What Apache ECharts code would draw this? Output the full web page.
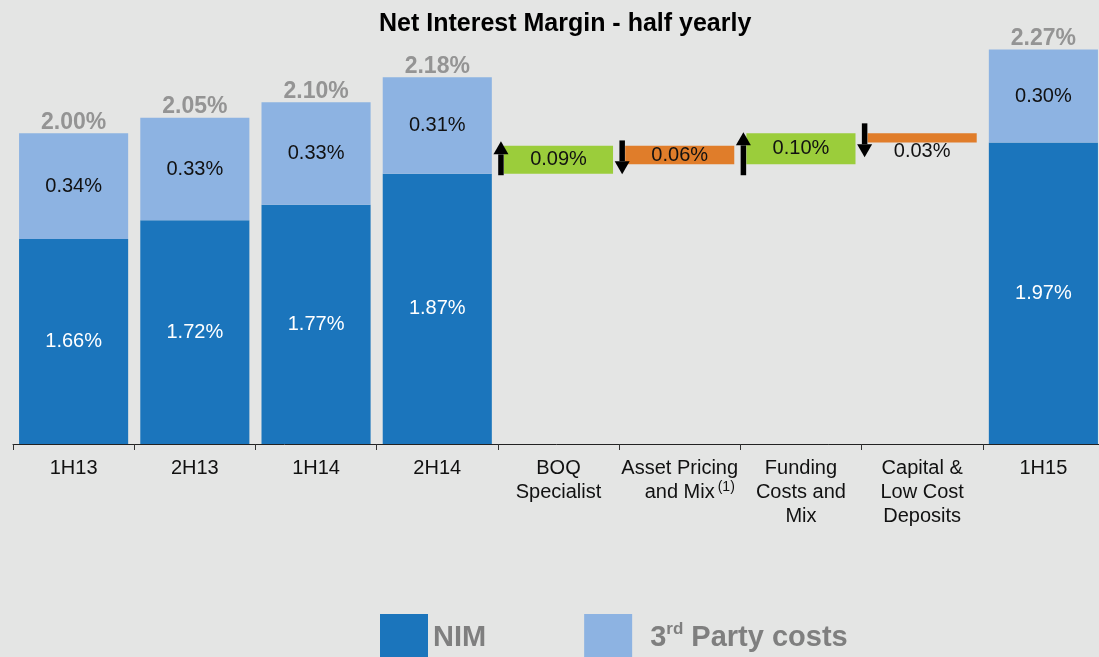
<!DOCTYPE html>
<html><head><meta charset="utf-8">
<script src="https://cdn.jsdelivr.net/npm/echarts@6/dist/echarts.min.js"></script>
<style>html,body{margin:0;padding:0;background:#e4e5e4;}#c{width:1099px;height:657px;}</style>
</head><body><div id="c"></div>
<script>
const categories = ['1H13','2H13','1H14','2H14','BOQ\nSpecialist','Asset Pricing\nand Mix(1)','Funding\nCosts and\nMix','Capital &\nLow Cost\nDeposits','1H15'];
const nim        = [1.66, 1.72, 1.77, 1.87, null, null, null, null, 1.97];
const thirdParty = [0.34, 0.33, 0.33, 0.31, null, null, null, null, 0.30];
const totals     = [2.00, 2.05, 2.10, 2.18, null, null, null, null, 2.27];
const stepBase   = [null, null, null, null, 1.87, 1.90, 1.90, 1.97, null];
const stepUp     = [null, null, null, null, 0.09, null, 0.10, null, null];
const stepDown   = [null, null, null, null, null, 0.06, null, 0.03, null];
const arrowFrom  = [null, null, null, null, 1.865, 1.977, 1.865, 2.032, null];
const arrowTo    = [null, null, null, null, 1.974, 1.868, 2.003, 1.923, null];

const FONT = 'Liberation Sans, Arial, Helvetica, sans-serif';
const dash = a => a.map(v => v == null ? '-' : v);
const pct = p => Number(p.value).toFixed(2) + '%';
const stepData = a => a.map(v => v == null ? '-' : (v < 0.05 ? {value: v, label: {position: 'bottom', distance: -1}} : v));

const chart = echarts.init(document.getElementById('c'), null, {renderer: 'canvas'});
chart.setOption({
  backgroundColor: '#e4e5e4',
  animation: false,
  textStyle: {fontFamily: FONT},
  title: {
    text: 'Net Interest Margin - half yearly',
    left: 379, top: 12, padding: 0,
    textStyle: {fontFamily: FONT, fontSize: 25, fontWeight: 'bold', color: '#000'}
  },
  legend: {
    data: ['NIM', '3rd Party costs'],
    left: 380, top: 614, padding: 0,
    itemWidth: 48, itemHeight: 48, itemGap: 98, icon: 'rect',
    selectedMode: false,
    formatter: n => n === 'NIM' ? 'NIM' : '{lead|3}{sup|rd}{b| Party costs}',
    textStyle: {
      fontFamily: FONT, fontSize: 29, fontWeight: 'bold', color: '#7f7f7f',
      rich: {
        lead: {fontFamily: FONT, fontSize: 29, fontWeight: 'bold', color: '#7f7f7f', lineHeight: 34, padding: [0, 0, 0, 13]},
        b: {fontFamily: FONT, fontSize: 29, fontWeight: 'bold', color: '#7f7f7f', lineHeight: 34},
        sup: {fontFamily: FONT, fontSize: 17, fontWeight: 'bold', color: '#7f7f7f', lineHeight: 26, verticalAlign: 'top'}
      }
    }
  },
  grid: {left: 13, width: 1091, top: 9, bottom: 213, containLabel: false, outerBoundsMode: 'none'},
  xAxis: {
    type: 'category', data: categories,
    axisLine: {lineStyle: {color: '#222', width: 1}},
    axisTick: {show: true, length: 6, lineStyle: {color: '#333'}},
    axisLabel: {
      interval: 0, margin: 12, fontFamily: FONT, fontSize: 20, lineHeight: 24, color: '#111',
      formatter: v => v.replace('and Mix(1)', '{pad|and Mix}{sup|(1)}'),
      rich: {
        pad: {fontFamily: FONT, fontSize: 20, lineHeight: 24, color: '#111', padding: [0, 0, 0, 20]},
        sup: {fontFamily: FONT, fontSize: 14, lineHeight: 20, color: '#111', verticalAlign: 'top', padding: [0, 0, 0, 3]}
      }
    }
  },
  yAxis: {type: 'value', min: 1, max: 2.4, show: false, splitLine: {show: false}},
  series: [
    {
      name: 'NIM', type: 'bar', stack: 'all', data: dash(nim), barCategoryGap: '10%',
      itemStyle: {color: '#1b75bc'},
      label: {show: true, position: 'inside', formatter: pct, fontFamily: FONT, fontSize: 20, color: '#fff'}
    },
    {
      name: '3rd Party costs', type: 'bar', stack: 'all', data: dash(thirdParty),
      itemStyle: {color: '#8db3e2'},
      label: {show: true, position: 'inside', formatter: pct, fontFamily: FONT, fontSize: 20, color: '#111'}
    },
    {
      name: 'base', type: 'bar', stack: 'all', data: dash(stepBase),
      itemStyle: {color: 'rgba(0,0,0,0)'}, silent: true
    },
    {
      name: 'up', type: 'bar', stack: 'all', data: stepData(stepUp),
      itemStyle: {color: '#9bcd3b'},
      label: {show: true, position: 'inside', formatter: pct, fontFamily: FONT, fontSize: 20, color: '#111'}
    },
    {
      name: 'down', type: 'bar', stack: 'all', data: stepData(stepDown),
      itemStyle: {color: '#e07d2a'},
      label: {show: true, position: 'inside', formatter: pct, fontFamily: FONT, fontSize: 20, color: '#111'}
    },
    {
      name: 'total', type: 'scatter', data: dash(totals), symbolSize: 1,
      itemStyle: {color: 'rgba(0,0,0,0)'}, silent: true, z: 5,
      label: {show: true, position: 'top', distance: -1, formatter: pct, fontFamily: FONT, fontSize: 23, fontWeight: 'bold', color: '#808080'}
    },
    {
      name: 'arrows', type: 'custom', silent: true, z: 10,
      encode: {x: 0, y: [1, 2]},
      data: arrowFrom.map((v, i) => v == null ? null : [i, v, arrowTo[i]]).filter(Boolean),
      renderItem: (params, api) => {
        const i = api.value(0);
        const p1 = api.coord([i, api.value(1)]);
        const p2 = api.coord([i, api.value(2)]);
        const band = api.size([1, 0])[0];
        const x = p1[0] - band * 0.45 - 3;
        const y1 = p1[1], y2 = p2[1];
        const dir = y2 < y1 ? -1 : 1;
        const headH = 13, headW = 15, shaftW = 5.5;
        const yh = y2 - dir * headH;
        return {
          type: 'group',
          children: [
            {type: 'rect', shape: {x: x - shaftW / 2, y: Math.min(y1, yh), width: shaftW, height: Math.abs(yh - y1)}, style: {fill: '#000'}},
            {type: 'polygon', shape: {points: [[x - headW / 2, yh], [x + headW / 2, yh], [x, y2]]}, style: {fill: '#000'}}
          ]
        };
      }
    }
  ]
});
</script>
</body></html>
